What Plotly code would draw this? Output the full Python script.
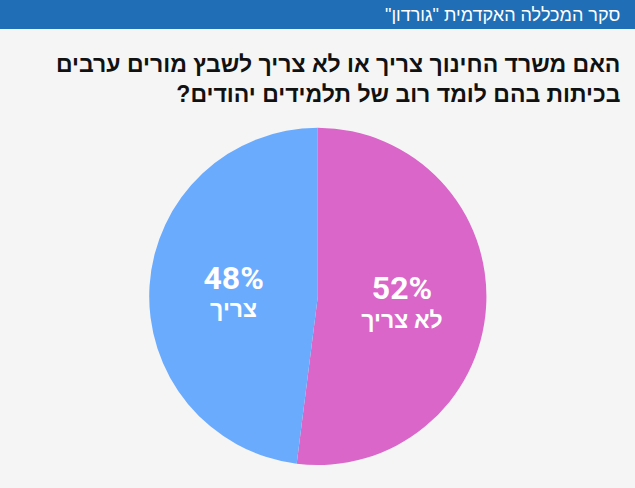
import plotly.graph_objects as go

labels = ["לא צריך", "צריך"]
values = [52, 48]
colors = ["#D966C8", "#6BABFE"]

header = "סקר המכללה האקדמית \"גורדון\"\u200f"
title_lines = ["האם משרד החינוך צריך או לא צריך לשבץ מורים ערבים",
               "בכיתות בהם לומד רוב של תלמידים יהודים?\u200f"]

fig = go.Figure(go.Pie(
    labels=labels, values=values, sort=False, direction="clockwise", rotation=0,
    marker=dict(colors=colors, line=dict(width=0)),
    texttemplate="<span style='font-size:32px'><b>%{percent}</b></span><br>"
                 "<span style='font-size:23px'><b>%{label}</b></span>",
    textposition="inside", insidetextorientation="horizontal",
    textfont=dict(family="Roboto, Liberation Sans, sans-serif", size=22, color="white"),
    hoverinfo="skip", showlegend=False,
    domain=dict(x=[0.234, 0.767], y=[0.047, 0.738]),
))

fig.add_shape(type="rect", xref="paper", yref="paper", x0=0, x1=1, y0=1 - 29/488, y1=1,
              fillcolor="#1F6EB6", line=dict(width=0), layer="below")
fig.add_annotation(text=header, xref="paper", yref="paper", x=622/635, y=1 - 15/488,
                   xanchor="right", yanchor="middle", showarrow=False,
                   font=dict(family="Liberation Sans, Arial, sans-serif", size=18, color="white"))
fig.add_annotation(text="<b>" + title_lines[0] + "</b><br><b>" + title_lines[1] + "</b>",
                   xref="paper", yref="paper", x=622/635, y=1 - 49/488,
                   xanchor="right", yanchor="top", align="right", showarrow=False,
                   font=dict(family="Liberation Sans, Arial, sans-serif", size=23, color="#111111"))

fig.update_layout(width=635, height=488, margin=dict(l=0, r=0, t=0, b=0),
                  paper_bgcolor="#F5F5F5", plot_bgcolor="#F5F5F5")
fig.write_html("out.html", config={"displayModeBar": False},
               post_script="document.body.style.margin='0';document.body.style.padding='0';")
